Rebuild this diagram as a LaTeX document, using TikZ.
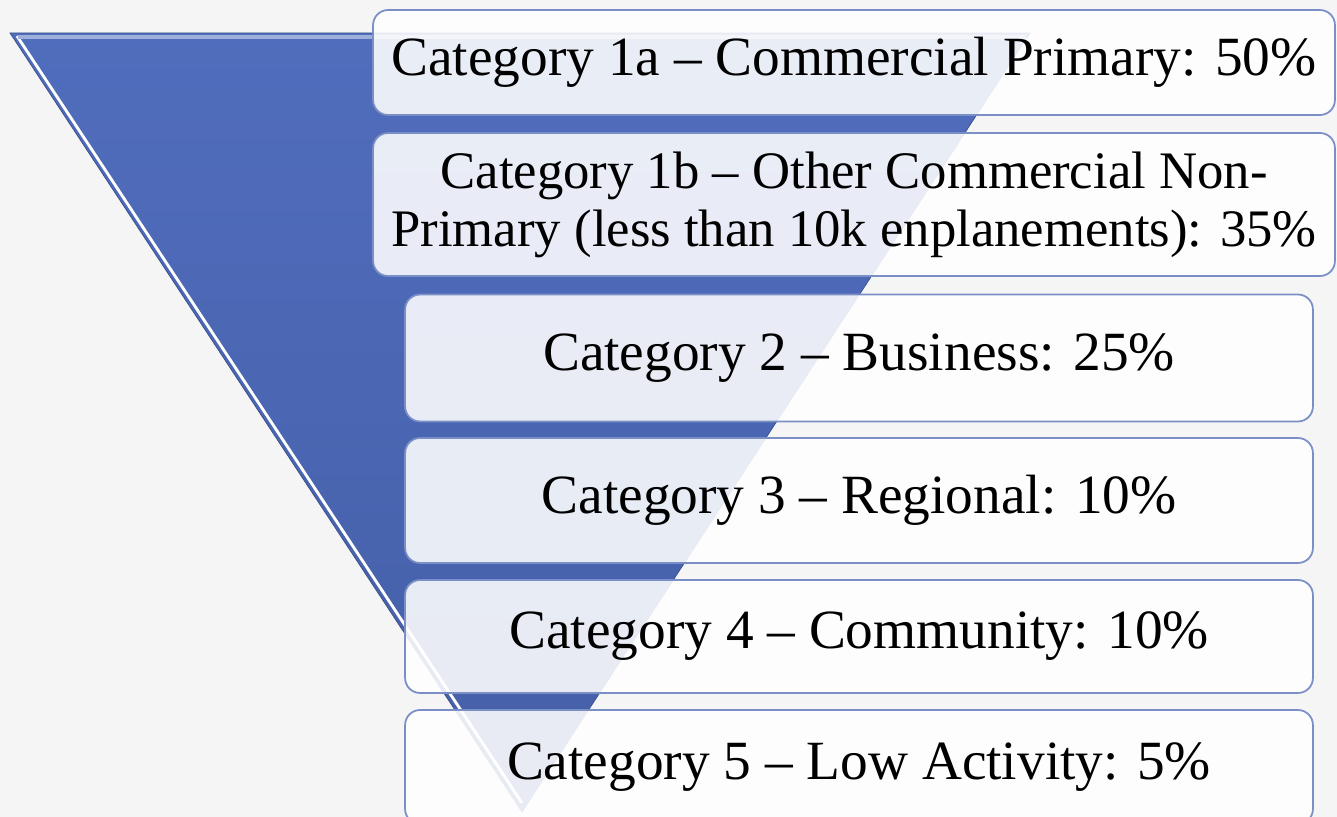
\documentclass[tikz,border=0pt]{standalone}
\IfFileExists{pplr8t.tfm}{%
  \usepackage[T1]{fontenc}
  \renewcommand{\rmdefault}{ppl}
}{%
  \usepackage{fontspec}
  \setmainfont{Liberation Serif}
}

\definecolor{funneltop}{RGB}{80,109,189}
\definecolor{funnelbot}{RGB}{69,95,167}
\definecolor{funnelrim}{RGB}{58,78,140}
\definecolor{boxrim}{RGB}{123,143,199}
\definecolor{bgside}{RGB}{245,245,245}

\tikzset{
  catbox/.style={draw=boxrim, line width=1pt, rounded corners=0.3cm,
    fill=white, fill opacity=0.88, text opacity=1, align=center,
    inner sep=0pt, font=\fontsize{31.5}{33}\selectfont},
  widebox/.style={catbox, minimum width=19.24cm},
  narrowbox/.style={catbox, minimum width=18.16cm},
}

\begin{document}
\begin{tikzpicture}[x=0.02cm,y=-0.02cm]
        % Background
        \useasboundingbox (0,0) rectangle (1337,817);
        \shade[left color=bgside, middle color=white, right color=bgside] (0,0) rectangle (1337,817);

        % Funnel
        \shade[top color=funneltop, bottom color=funnelbot, draw=funnelrim, line width=0.4pt]
            (10,33) -- (1030,33) -- (522,812) -- cycle;
        \draw[white, line width=1.6pt] (17,36) -- (522,803);
        \draw[funneltop!55!white, line width=2pt] (18,37) -- (1026,37);

        % Categories
        \node[widebox, minimum height=2.1cm] (cat1a) at (854,62.5)
            {Category 1a -- Commercial Primary: 50\%};
        \node[widebox, minimum height=2.86cm, font=\fontsize{30}{33}\selectfont] (cat1b) at (854,204.5)
            {Category 1b -- Other Commercial Non-\\Primary (less than 10k enplanements): 35\%};
        \node[narrowbox, minimum height=2.54cm] (cat2) at (859,358)
            {Category 2 -- Business: 25\%};
        \node[narrowbox, minimum height=2.5cm] (cat3) at (859,500.5)
            {Category 3 -- Regional: 10\%};
        \node[narrowbox, minimum height=2.26cm] (cat4) at (859,636.5)
            {Category 4 -- Community: 10\%};
        \node[narrowbox, minimum height=2.28cm] (cat5) at (859,767)
            {Category 5 -- Low Activity: 5\%};
\end{tikzpicture}
\end{document}
